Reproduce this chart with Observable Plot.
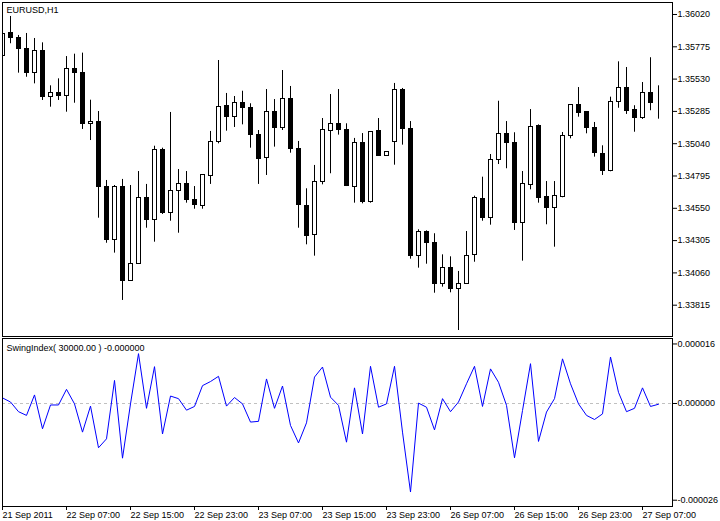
<!DOCTYPE html>
<html><head><meta charset="utf-8">
<script src="https://cdn.jsdelivr.net/npm/d3@7"></script>
<script src="https://cdn.jsdelivr.net/npm/@observablehq/plot@0.6"></script>
<style>
html,body{margin:0;padding:0;background:#fff;}
#chart{position:relative;width:720px;height:521px;overflow:hidden;background:#fff;}
#chart svg{position:absolute;left:0;}
</style></head><body><div id="chart"></div>
<script>
const symbolLabel = "EURUSD,H1";
const indicatorLabel = "SwingIndex( 30000.00 ) -0.000000";

const opens = [1.35704,1.35876,1.35843,1.35760,1.35578,1.35745,1.35393,1.35426,1.35403,1.35608,
1.35573,1.35191,1.35208,1.34715,1.34311,1.34708,1.34002,1.34129,1.34630,1.34460,
1.34996,1.34516,1.34683,1.34736,1.34615,1.34569,1.34797,1.35051,1.35328,1.35241,
1.35350,1.35312,1.35108,1.34933,1.35282,1.35158,1.35381,1.35001,1.34571,1.34349,
1.34751,1.35138,1.35191,1.35146,1.34713,1.35047,1.34596,1.35138,1.34948,1.35054,
1.35449,1.35155,1.34190,1.34372,1.34288,1.33977,1.34099,1.33939,1.33977,1.34194,
1.34624,1.34478,1.34915,1.35115,1.35047,1.34437,1.34728,1.35171,1.34632,1.34551,
1.34634,1.35100,1.35335,1.35277,1.35161,1.34963,1.34831,1.35358,1.35464,1.35292,
1.35233,1.35426,1.35350];
const highs = [1.35891,1.36005,1.35861,1.35876,1.35838,1.35805,1.35479,1.35532,1.35701,1.35719,
1.35727,1.35370,1.35284,1.34761,1.34723,1.34769,1.34723,1.34829,1.34731,1.35021,
1.35006,1.35277,1.34844,1.34829,1.34715,1.34806,1.35133,1.35671,1.35421,1.35398,
1.35438,1.35343,1.35140,1.35451,1.35375,1.35595,1.35474,1.35057,1.34698,1.34875,
1.35231,1.35413,1.35451,1.35191,1.35080,1.35117,1.35130,1.35231,1.34979,1.35497,
1.35459,1.35208,1.34387,1.34379,1.34357,1.34197,1.34182,1.34071,1.34374,1.34642,
1.34786,1.34958,1.35362,1.35208,1.35123,1.34829,1.35299,1.35183,1.34753,1.34753,
1.35125,1.35335,1.35466,1.35284,1.35201,1.35024,1.35393,1.35661,1.35618,1.35328,
1.35504,1.35692,1.35479];
const lows = [1.35694,1.35798,1.35575,1.35544,1.35494,1.35368,1.35317,1.35368,1.35279,1.35347,
1.35148,1.35064,1.34475,1.34285,1.34210,1.33851,1.33997,1.34129,1.34399,1.34293,
1.34503,1.34452,1.34361,1.34589,1.34543,1.34543,1.34731,1.35039,1.35135,1.35163,
1.35183,1.35006,1.34731,1.34799,1.35014,1.35140,1.34968,1.34399,1.34273,1.34187,
1.34728,1.34812,1.35105,1.34715,1.34589,1.34584,1.34589,1.34945,1.34948,1.34877,
1.35029,1.34164,1.34096,1.34126,1.33906,1.33952,1.33909,1.33623,1.33977,1.34141,
1.34452,1.34422,1.34882,1.34850,1.34382,1.34149,1.34690,1.34589,1.34425,1.34255,
1.34630,1.35077,1.35241,1.35115,1.34938,1.34799,1.34827,1.35309,1.35262,1.35127,
1.35224,1.35290,1.35226];
const closes = [1.35874,1.35843,1.35757,1.35578,1.35745,1.35393,1.35426,1.35400,1.35608,1.35575,
1.35188,1.35206,1.34710,1.34306,1.34715,1.34002,1.34129,1.34630,1.34458,1.34996,
1.34513,1.34683,1.34736,1.34615,1.34574,1.34799,1.35054,1.35322,1.35241,1.35350,
1.35312,1.35105,1.34922,1.35282,1.35158,1.35381,1.34998,1.34577,1.34338,1.34751,
1.35146,1.35191,1.35142,1.34718,1.35047,1.34596,1.35130,1.34945,1.34979,1.35449,
1.35150,1.34187,1.34372,1.34288,1.33977,1.34099,1.33939,1.33977,1.34190,1.34630,
1.34478,1.34918,1.35115,1.35044,1.34437,1.34736,1.35168,1.34627,1.34551,1.34640,
1.35102,1.35335,1.35271,1.35161,1.34968,1.34831,1.35360,1.35464,1.35290,1.35233,
1.35426,1.35350,1.35350];
// Swing Index values in units of 1e-6
const swingIndexMicro = [1.5,0.4,-2.2,-3.2,2.3,-6.8,-0.4,-0.4,3.8,-0.1,
-7.7,-0.7,-11.9,-9.5,6.2,-14.7,-0.1,13.4,-1.3,9.9,
-8.2,2.0,1.3,-1.8,-0.8,4.8,5.9,7.3,-0.7,1.6,
-0.1,-5.0,-4.8,6.6,-1.3,4.7,-5.9,-10.6,-5.2,7.1,
9.8,1.7,-0.5,-10.4,4.2,-8.2,10.0,-1.0,-0.1,10.0,
-7.7,-23.8,0.1,-1.0,-7.1,1.3,-2.2,0.4,5.3,10.0,
-0.8,9.3,5.7,-0.5,-14.6,-1.9,10.7,-10.2,-2.3,1.3,
12.0,5.3,-0.1,-3.2,-4.3,-2.8,12.5,3.0,-2.2,-1.3,
4.2,-0.8,-0.2];
const timeTickIndex = [0,8,16,24,32,40,48,56,64,72,80];
const timeTickLabels = ["21 Sep 2011","22 Sep 07:00","22 Sep 15:00","22 Sep 23:00","23 Sep 07:00","23 Sep 15:00","23 Sep 23:00","26 Sep 07:00","26 Sep 15:00","26 Sep 23:00","27 Sep 07:00"];
const priceTicks = [1.36020,1.35775,1.35530,1.35285,1.35040,1.34795,1.34550,1.34305,1.34060,1.33815];
const swingTicks = [0.000016,0,-0.000026];

const candles = opens.map((o,i)=>({i, open:o, high:highs[i], low:lows[i], close:closes[i]}));
const swing = swingIndexMicro.map((v,i)=>({i, v:v*1e-6}));

const font = {fontFamily:"'Liberation Sans', Arial, sans-serif", fontSize:"9px", background:"transparent"};
const xDomain = [0, 83.75];

const main = Plot.plot({
  width:720, height:337, marginTop:2, marginBottom:1, marginLeft:2, marginRight:48,
  style: font,
  x:{domain:xDomain, axis:null, label:null},
  y:{domain:[1.335776,1.36111], axis:null, label:null},
  marks:[
    Plot.ruleX(candles,{x:"i", y1:"low", y2:"high", stroke:"black", strokeWidth:1, clip:true}),
    Plot.rect(candles,{x1:d=>d.i-0.25, x2:d=>d.i+0.25, y1:"open", y2:"close",
      fill:d=>d.close>=d.open?"white":"black", stroke:"black", strokeWidth:1, clip:true, shapeRendering:"crispEdges"}),
    Plot.frame({stroke:"black"}),
    Plot.axisY(priceTicks,{anchor:"right", label:null, tickSize:4, tickPadding:1, tickFormat:d=>d.toFixed(5), fill:"black", stroke:"black"}),
    Plot.text([symbolLabel],{text:d=>d, frameAnchor:"top-left", dx:4, dy:4, lineAnchor:"top", textAnchor:"start", fill:"black"})
  ]
});
main.style.top = "0px";

const sub = Plot.plot({
  width:720, height:184, marginTop:1, marginBottom:15, marginLeft:2, marginRight:48,
  style: font,
  x:{domain:xDomain, axis:null, label:null},
  y:{domain:[-27.69e-6,17.47e-6], axis:null, label:null},
  marks:[
    Plot.ruleY([0],{stroke:"#c0c0c0", strokeDasharray:"3,3"}),
    Plot.line(swing,{x:"i", y:"v", stroke:"#0000ff", strokeWidth:1}),
    Plot.frame({stroke:"black"}),
    Plot.axisY(swingTicks,{anchor:"right", label:null, tickSize:4, tickPadding:1, tickFormat:d=>d.toFixed(6), fill:"black", stroke:"black"}),
    Plot.axisX(timeTickIndex,{anchor:"bottom", label:null, tickSize:4, tickPadding:1, textAnchor:"start", tickFormat:d=>timeTickLabels[timeTickIndex.indexOf(d)], fill:"black", stroke:"black"}),
    Plot.text([indicatorLabel],{text:d=>d, frameAnchor:"top-left", dx:4, dy:6, lineAnchor:"top", textAnchor:"start", fill:"black"})
  ]
});
sub.style.top = "337px";

const chart = document.getElementById("chart");
chart.appendChild(main);
chart.appendChild(sub);
</script>
</body></html>
